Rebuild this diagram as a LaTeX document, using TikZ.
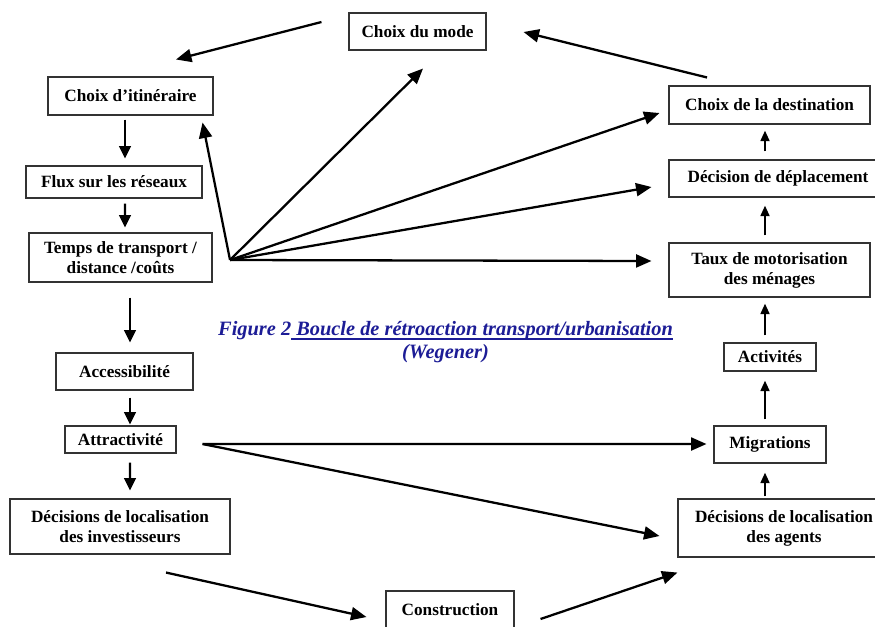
\documentclass[tikz,border=0pt]{standalone}
\usepackage{fontspec}
\setmainfont{Liberation Serif}
\usetikzlibrary{calc,arrows.meta}
\definecolor{capblue}{RGB}{28,28,150}
% underline drawn as a rule just under the baseline
\newcommand\capunderline[1]{\setbox0\hbox{#1}\rlap{\rule[-2.4pt]{\wd0}{1pt}}\box0}
\begin{document}
\begin{tikzpicture}[x=0.02cm,y=-0.02cm,
  box/.style={draw=black!80,line width=0.6pt,inner sep=0pt,align=center,
    font=\bfseries\fontsize{9.8}{11.4}\selectfont},
  sz/.style 2 args={minimum width=#1*0.02cm,minimum height=#2*0.02cm},
  arr/.style={-{Triangle[length=8.8pt,width=7.4pt]},line width=1.3pt},
  arrm/.style={-{Triangle[length=7pt,width=6.6pt]},line width=1.3pt},
  arrs/.style={-{Triangle[length=6pt,width=5pt]},line width=1.3pt}]
\useasboundingbox (0,0) rectangle (875,626);
\clip (0,0) rectangle (875,626);

% transport side (left column and top)
\node[box,sz={137}{37}] (mode)  at (417.5,31.5) {Choix du mode};
\node[box,sz={165}{38}] (iti)   at (130.5,96)   {Choix d’itinéraire};
\node[box,sz={176}{32}] (flux)  at (114,182)    {Flux sur les réseaux};
\node[box,sz={183}{49}] (temps) at (120.5,257.5) {Temps de transport /\\distance /coûts};
\node[box,sz={137}{37}] (acc)   at (124.5,371.5) {Accessibilité};
\node[box,sz={111}{27}] (attr)  at (120.5,439.5) {Attractivité};
\node[box,sz={220}{55}] (inv)   at (120,526.5)  {Décisions de localisation\\des investisseurs};
\node[box,sz={128}{38}] (cons)  at (450,610)    {Construction};

% urbanisation side (right column)
\node[box,sz={201}{38}] (dest)   at (769.5,105)  {Choix de la destination};
\node[box,sz={218}{37}] (depl)   at (778,178.5)  {Décision de déplacement};
\node[box,sz={201}{54}] (motor)  at (769.5,270)  {Taux de motorisation\\des ménages};
\node[box,sz={92}{28}]  (act)    at (770,357)    {Activités};
\node[box,sz={112}{37}] (mig)    at (770,444.5)  {Migrations};
\node[box,sz={212}{58}] (agents) at (784,528)    {Décisions de localisation\\des agents};

% caption
\node[font=\bfseries\itshape\fontsize{11.6}{12.8}\selectfont,text=capblue,align=center]
  (cap) at (445.5,342) {Figure 2\capunderline{ Boucle de rétroaction transport/urbanisation}\\(Wegener)};

% fan origins
\coordinate (hub) at ($(temps.east)+(17.5,2.5)$);
\coordinate (ah)  at ($(attr.east)+(26,4.5)$);

% top loop
\draw[arr] ($(mode.west)+(-27,-9.5)$) -- ($(iti.north)+(45.5,-17)$);
\draw[arr] ($(dest.north)+(-62.5,-8)$) -- ($(mode.east)+(37,0.5)$);

% left column downwards
\draw[arrm] ($(iti.south)+(-5.5,4)$)  -- ($(flux.north)+(11,-7)$);
\draw[arrm] ($(flux.south)+(11,5)$)   -- ($(temps.north)+(4.5,-5)$);
\draw[arrm] ($(temps.south)+(9.5,15)$) -- ($(acc.north)+(5.5,-10)$);
\draw[arrm] ($(acc.south)+(5.5,7)$)   -- ($(attr.north)+(9.5,-1)$);
\draw[arrm] ($(attr.south)+(9.5,9)$)  -- ($(inv.north)+(10,-8)$);

% fan from transport times
\draw[arr] (hub) -- ($(iti.south east)+(-11,7)$);
\draw[arr] (hub) -- ($(mode.south)+(5.5,18)$);
\draw[arr] (hub) -- ($(dest.west)+(-9,8)$);
\draw[arr] (hub) -- ($(depl.west)+(-17,8.5)$);
\draw[arr] (hub) -- ($(motor.west)+(-17,-9)$);

% right column upwards
\draw[arrs] ($(depl.north)+(-13,-8)$)  -- ($(dest.south)+(-4.5,6)$);
\draw[arrs] ($(motor.north)+(-4.5,-7)$) -- ($(depl.south)+(-13,8)$);
\draw[arrs] ($(act.north)+(-5,-7)$)    -- ($(motor.south)+(-4.5,6)$);
\draw[arrs] ($(mig.north)+(-5,-6)$)    -- ($(act.south)+(-5,9)$);
\draw[arrs] ($(agents.north)+(-19,-2)$) -- ($(mig.south)+(-5,9)$);

% attractiveness links
\draw[arr] (ah) -- ($(mig.west)+(-7,-0.5)$);
\draw[arr] (ah) -- ($(agents.west)+(-18,8)$);

% bottom loop
\draw[arr] ($(inv.south)+(46,18)$) -- ($(cons.west)+(-19,7)$);
\draw[arr] ($(cons.east)+(26,9)$)  -- ($(agents.south west)+(0,15)$);
\end{tikzpicture}
\end{document}
